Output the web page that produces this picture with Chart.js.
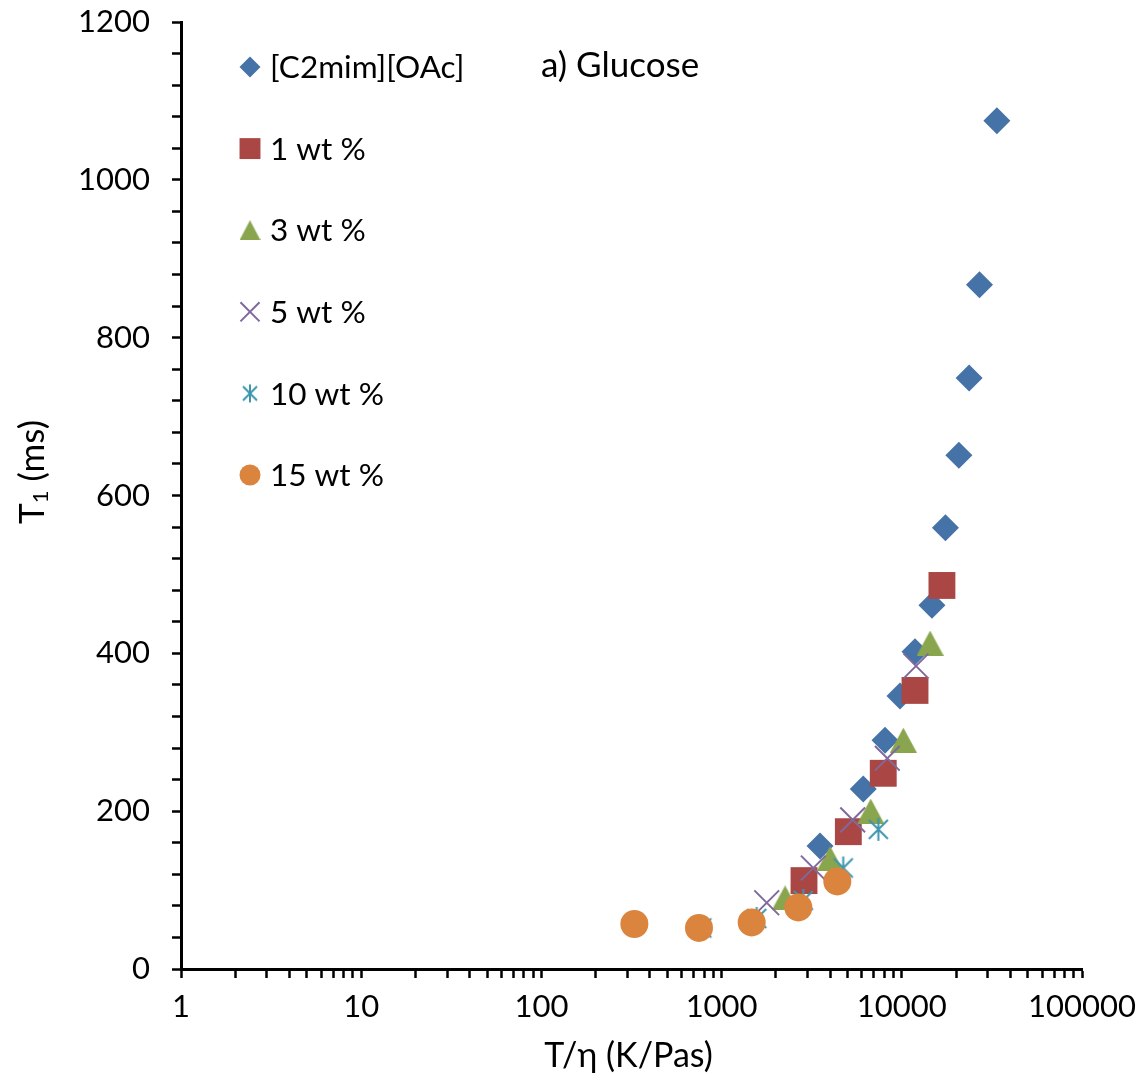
<!DOCTYPE html>
<html>
<head>
<meta charset="utf-8">
<script src="https://cdn.jsdelivr.net/npm/chart.js@4.4.1/dist/chart.umd.min.js"></script>
<style>
  html, body { margin: 0; padding: 0; background: #fff; }
  #wrap { width: 1143px; height: 1082px; }
</style>
</head>
<body>
<div id="wrap"><canvas id="t1Chart" width="1143" height="1082"></canvas></div>
<script>
// Data (T/eta in K/Pas, T1 in ms)
const seriesNames = ['[C2mim][OAc]', '1 wt %', '3 wt %', '5 wt %', '10 wt %', '15 wt %'];

const ilX = [33700, 26980, 23640, 20730, 17470, 14700, 11840, 9770, 8070, 6110, 3515];
const ilY = [1075, 867, 749, 651, 559, 461, 402, 346, 290, 228, 156];

const wt1X = [16700, 11840, 7890, 5050, 2866];
const wt1Y = [486, 353, 248, 174, 112];

const wt3X = [14350, 10200, 6720, 4000, 2250];
const wt3Y = [413, 290, 200, 140, 90];

const wt5X = [11990, 8310, 5340, 3228, 1780];
const wt5Y = [384, 267, 189, 128, 84];

const wt10X = [7410, 4730, 2840, 1566, 776];
const wt10Y = [177, 128, 87, 64, 52];

const wt15X = [4386, 2666, 1469, 749, 328];
const wt15Y = [111, 78, 59, 52, 57];

const xTickLabels = [1, 10, 100, 1000, 10000, 100000];
const yTickLabels = [0, 200, 400, 600, 800, 1000, 1200];

const colors = ['#4572A7', '#AA4643', '#89A54E', '#80699B', '#3D96AE', '#DB843D'];
const FONT = 'Lato, "Open Sans", sans-serif';

// minor ticks: 2..9 in every decade, every 40 ms on the y axis
const xTicks = [];
xTickLabels.forEach((d, i) => {
    if (i === xTickLabels.length - 1) { xTicks.push(d); return; }
    for (let m = 1; m <= 9; m++) xTicks.push(d * m);
});
const yTicks = [];
for (let v = 0; v <= 1200; v += 40) yTicks.push(v);

function toPoints(xs, ys) {
    return xs.map((x, i) => ({ x: x, y: ys[i] }));
}

// small canvases for markers chart.js has no exact match for
function makeMarker(w, h, draw) {
    const c = document.createElement('canvas');
    c.width = w;
    c.height = h;
    draw(c.getContext('2d'), w, h);
    return c;
}
function triangle(size, color) {
    const h = Math.round(size * 0.93);
    return makeMarker(size, h, (g, w, hh) => {
        g.fillStyle = color;
        g.beginPath();
        g.moveTo(w / 2, 0);
        g.lineTo(w, hh);
        g.lineTo(0, hh);
        g.closePath();
        g.fill();
    });
}
function asterisk(size, color) {
    return makeMarker(size, size, (g, w, h) => {
        g.strokeStyle = color;
        g.lineWidth = 2;
        g.beginPath();
        g.moveTo(w / 2, 1); g.lineTo(w / 2, h - 1);
        g.moveTo(3, 3); g.lineTo(w - 3, h - 3);
        g.moveTo(w - 3, 3); g.lineTo(3, h - 3);
        g.stroke();
    });
}

const plotStyles = [
    { pointStyle: 'rectRot', radius: 13.5, borderWidth: 0 },
    { pointStyle: 'rect', radius: 19, borderWidth: 0 },
    { pointStyle: triangle(27, colors[2]), radius: 13, borderWidth: 0 },
    { pointStyle: 'crossRot', radius: 17.5, borderWidth: 2 },
    { pointStyle: asterisk(25, colors[4]), radius: 12, borderWidth: 0 },
    { pointStyle: 'circle', radius: 14, borderWidth: 0 }
];
const legendStyles = [
    { pointStyle: 'rectRot', radius: 10.5, borderWidth: 0 },
    { pointStyle: 'rect', radius: 14.8, borderWidth: 0 },
    { pointStyle: triangle(21, colors[2]), radius: 10, borderWidth: 0 },
    { pointStyle: 'crossRot', radius: 13.5, borderWidth: 2 },
    { pointStyle: asterisk(20, colors[4]), radius: 10, borderWidth: 0 },
    { pointStyle: 'circle', radius: 10.5, borderWidth: 0 }
];

const seriesData = [
    toPoints(ilX, ilY),
    toPoints(wt1X, wt1Y),
    toPoints(wt3X, wt3Y),
    toPoints(wt5X, wt5Y),
    toPoints(wt10X, wt10Y),
    toPoints(wt15X, wt15Y)
];

const datasets = seriesNames.map((name, i) => ({
    label: name,
    data: seriesData[i],
    showLine: false,
    order: 6 - i,
    pointStyle: plotStyles[i].pointStyle,
    pointRadius: plotStyles[i].radius,
    pointHoverRadius: plotStyles[i].radius,
    pointBorderWidth: plotStyles[i].borderWidth,
    backgroundColor: colors[i],
    borderColor: colors[i]
}));

// Legend, panel label and axis titles drawn by hand
const annotate = {
    id: 'annotate',
    afterDraw(chart) {
        const ctx = chart.ctx;
        const area = chart.chartArea;
        ctx.save();

        // legend
        seriesNames.forEach((name, i) => {
            const y = 67 + i * 81.6;
            const st = legendStyles[i];
            ctx.fillStyle = colors[i];
            ctx.strokeStyle = colors[i];
            ctx.lineWidth = st.borderWidth;
            Chart.helpers.drawPoint(ctx, { pointStyle: st.pointStyle, radius: st.radius, borderWidth: st.borderWidth, rotation: 0 }, 250, y);
            ctx.fillStyle = '#000';
            ctx.font = '31.5px ' + FONT;
            ctx.textAlign = 'left';
            ctx.textBaseline = 'middle';
            ctx.fillText(name, 270, y + 1);
        });

        // panel label
        ctx.fillStyle = '#000';
        ctx.font = '35px ' + FONT;
        ctx.textAlign = 'left';
        ctx.textBaseline = 'middle';
        ctx.fillText('a) Glucose', 541, 66);

        // x axis title
        ctx.font = '34px ' + FONT;
        ctx.textAlign = 'center';
        ctx.textBaseline = 'alphabetic';
        ctx.fillText('T/η (K/Pas)', (area.left + area.right) / 2 - 3, 1067);

        // y axis title, rotated, with subscript
        ctx.translate(44, 472);
        ctx.rotate(-Math.PI / 2);
        ctx.textAlign = 'left';
        const big = '35px ' + FONT, small = '22px ' + FONT;
        ctx.font = big;
        const wT = ctx.measureText('T').width;
        const wRest = ctx.measureText(' (ms)').width;
        ctx.font = small;
        const w1 = ctx.measureText('1').width;
        let x0 = -(wT + w1 + wRest) / 2;
        ctx.font = big;
        ctx.fillText('T', x0, 0);
        ctx.font = small;
        ctx.fillText('1', x0 + wT, 4);
        ctx.font = big;
        ctx.fillText(' (ms)', x0 + wT + w1, 0);

        ctx.restore();
    }
};

new Chart(document.getElementById('t1Chart'), {
    type: 'scatter',
    data: { datasets: datasets },
    options: {
        responsive: false,
        animation: false,
        layout: { padding: { left: 0, top: 22, right: 61, bottom: 0 } },
        plugins: {
            legend: { display: false },
            tooltip: { enabled: false }
        },
        scales: {
            x: {
                type: 'logarithmic',
                min: 1,
                max: 100000,
                afterBuildTicks: scale => {
                    scale.ticks = xTicks.map(v => ({ value: v, major: xTickLabels.includes(v) }));
                },
                afterFit: scale => {
                    scale.height = 113;
                    scale.paddingLeft = 0;
                    scale.paddingRight = 0;
                },
                ticks: {
                    autoSkip: false,
                    maxRotation: 0,
                    padding: 10,
                    color: '#000',
                    font: { family: FONT, size: 31 },
                    callback: v => xTickLabels.includes(v) ? String(v) : ''
                },
                grid: { drawOnChartArea: false, tickLength: 9, tickWidth: 2.5, tickColor: '#000' },
                border: { color: '#000', width: 3 }
            },
            y: {
                type: 'linear',
                min: 0,
                max: 1200,
                afterBuildTicks: scale => {
                    scale.ticks = yTicks.map(v => ({ value: v }));
                },
                afterFit: scale => {
                    scale.width = 181;
                    scale.paddingTop = 0;
                    scale.paddingBottom = 0;
                },
                ticks: {
                    autoSkip: false,
                    padding: 22,
                    color: '#000',
                    font: { family: FONT, size: 31 },
                    callback: v => yTickLabels.includes(v) ? String(v) : ''
                },
                grid: { drawOnChartArea: false, tickLength: 9, tickWidth: 2.5, tickColor: '#000' },
                border: { color: '#000', width: 3 }
            }
        }
    },
    plugins: [annotate]
});
</script>
</body>
</html>
